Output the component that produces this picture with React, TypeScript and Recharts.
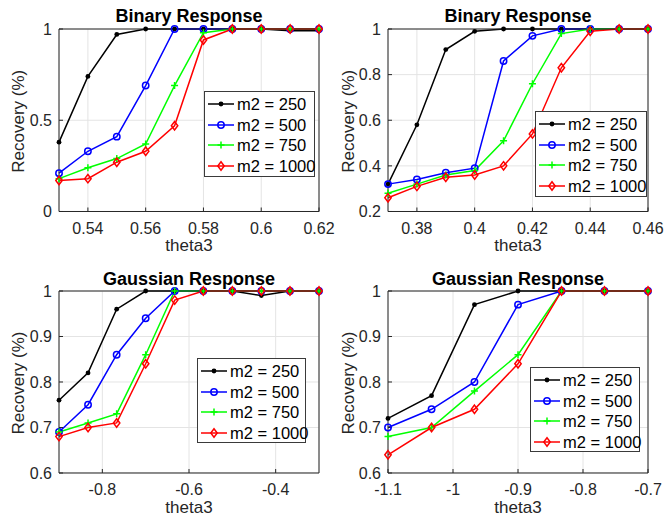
import React from "react"
import { LineChart, Line, XAxis, YAxis, CartesianGrid } from "recharts"

const FONT = '"Liberation Sans", Arial, Helvetica, sans-serif'
const INK = "#262626"

// theta3 values per panel
const thetaBinaryA = [0.53, 0.54, 0.55, 0.56, 0.57, 0.58, 0.59, 0.6, 0.61, 0.62]
const thetaBinaryB = [0.37, 0.38, 0.39, 0.4, 0.41, 0.42, 0.43, 0.44, 0.45, 0.46]
const thetaGaussA = [-0.9, -0.833, -0.767, -0.7, -0.633, -0.567, -0.5, -0.433, -0.367, -0.3]
const thetaGaussB = [-1.1, -1.033, -0.967, -0.9, -0.833, -0.767, -0.7]

// recovery, binary response (left)
const binA250 = [0.38, 0.74, 0.97, 1, 1, 1, 1, 1, 0.99, 0.99]
const binA500 = [0.21, 0.33, 0.41, 0.69, 1, 1, 1, 1, 1, 1]
const binA750 = [0.18, 0.24, 0.29, 0.37, 0.69, 0.98, 1, 1, 1, 1]
const binA1000 = [0.17, 0.18, 0.27, 0.33, 0.47, 0.94, 1, 1, 1, 1]

// recovery, binary response (right)
const binB250 = [0.32, 0.58, 0.91, 0.99, 1, 1, 1, 1, 1, 1]
const binB500 = [0.32, 0.34, 0.37, 0.39, 0.86, 0.97, 1, 1, 1, 1]
const binB750 = [0.28, 0.32, 0.36, 0.38, 0.51, 0.76, 0.98, 1, 1, 1]
const binB1000 = [0.26, 0.31, 0.35, 0.36, 0.4, 0.54, 0.83, 0.99, 1, 1]

// recovery, gaussian response (left)
const gauA250 = [0.76, 0.82, 0.96, 1, 1, 1, 1, 0.99, 1, 1]
const gauA500 = [0.69, 0.75, 0.86, 0.94, 1, 1, 1, 1, 1, 1]
const gauA750 = [0.69, 0.71, 0.73, 0.86, 1, 1, 1, 1, 1, 1]
const gauA1000 = [0.68, 0.7, 0.71, 0.84, 0.98, 1, 1, 1, 1, 1]

// recovery, gaussian response (right)
const gauB250 = [0.72, 0.77, 0.97, 1, 1, 1, 1]
const gauB500 = [0.7, 0.74, 0.8, 0.97, 1, 1, 1]
const gauB750 = [0.68, 0.7, 0.78, 0.86, 1, 1, 1]
const gauB1000 = [0.64, 0.7, 0.74, 0.84, 1, 1, 1]

const seriesNames = ["m2 = 250", "m2 = 500", "m2 = 750", "m2 = 1000"]

// tick labels
const xTicksBinA = [0.54, 0.56, 0.58, 0.6, 0.62]
const xTicksBinB = [0.38, 0.4, 0.42, 0.44, 0.46]
const xTicksGauA = [-0.8, -0.6, -0.4]
const xTicksGauB = [-1.1, -1, -0.9, -0.8, -0.7]
const yTicksBinA = [0, 0.5, 1]
const yTicksBinB = [0.2, 0.4, 0.6, 0.8, 1]
const yTicksGau = [0.6, 0.7, 0.8, 0.9, 1]

const styles = [
  { color: "#000000", marker: "dot" },
  { color: "#0000ff", marker: "circle" },
  { color: "#00ff00", marker: "plus" },
  { color: "#ff0000", marker: "diamond" },
]

const fmt = (v: number) => String(Number(v.toFixed(2)))

// axes need a non-zero thickness or recharts skips drawing them
const THIN = 0.01

function Marker({ kind, cx, cy, color }: { kind: string; cx: number; cy: number; color: string }) {
  if (cx == null || cy == null) return null
  if (kind === "dot") return <circle cx={cx} cy={cy} r={2.4} fill={color} />
  if (kind === "circle") return <circle cx={cx} cy={cy} r={3.2} fill="none" stroke={color} strokeWidth={1.5} />
  if (kind === "plus")
    return (
      <path d={`M${cx - 3.5},${cy}H${cx + 3.5}M${cx},${cy - 3.5}V${cy + 3.5}`} stroke={color} strokeWidth={1.5} />
    )
  return (
    <path
      d={`M${cx},${cy - 4.2}L${cx + 3.2},${cy}L${cx},${cy + 4.2}L${cx - 3.2},${cy}Z`}
      fill="none"
      stroke={color}
      strokeWidth={1.5}
    />
  )
}

type PanelProps = {
  title: string
  x: number[]
  series: number[][]
  xDomain: [number, number]
  yDomain: [number, number]
  xTicks: number[]
  yTicks: number[]
  width: number
  margin: { top: number; right: number; bottom: number; left: number }
  yLabelX: number
  titleY: number
  xLabelY: number
  legend: { left: number; top: number; width: number; height: number }
  pos: { left: number; top: number }
}

function Panel(p: PanelProps) {
  const H = 260
  const data = p.x.map((v, i) => {
    const row: Record<string, number> = { x: v }
    p.series.forEach((s, k) => (row["s" + k] = s[i]))
    return row
  })
  const plotCx = (p.margin.left + p.width - p.margin.right) / 2
  const plotCy = (p.margin.top + H - p.margin.bottom) / 2
  const tickStyle = { fill: INK, fontSize: 16, fontFamily: FONT }

  return (
    <div style={{ position: "absolute", left: p.pos.left, top: p.pos.top, width: p.width, height: H }}>
      <LineChart width={p.width} height={H} data={data} margin={p.margin}>
        <CartesianGrid xAxisId="b" yAxisId="l" stroke="#e4e4e4" />
        <XAxis
          xAxisId="b"
          type="number"
          dataKey="x"
          domain={p.xDomain}
          ticks={p.xTicks}
          interval={0}
          height={THIN}
          tickSize={-4}
          tickMargin={15}
          stroke={INK}
          tick={tickStyle}
          tickFormatter={fmt}
        />
        <XAxis
          xAxisId="t"
          orientation="top"
          type="number"
          dataKey="x"
          domain={p.xDomain}
          ticks={p.xTicks}
          interval={0}
          height={THIN}
          mirror
          tick={false}
          tickSize={4}
          stroke={INK}
        />
        <YAxis
          yAxisId="l"
          type="number"
          domain={p.yDomain}
          ticks={p.yTicks}
          interval={0}
          width={THIN}
          tickSize={-4}
          tickMargin={11}
          stroke={INK}
          tick={tickStyle}
          tickFormatter={fmt}
        />
        <YAxis
          yAxisId="r"
          orientation="right"
          type="number"
          domain={p.yDomain}
          ticks={p.yTicks}
          interval={0}
          width={THIN}
          mirror
          tick={false}
          tickSize={4}
          stroke={INK}
        />
        {p.series.map((_, k) => (
          <Line
            key={k}
            xAxisId="b"
            yAxisId="l"
            type="linear"
            dataKey={"s" + k}
            stroke={styles[k].color}
            strokeWidth={1.5}
            isAnimationActive={false}
            dot={(d: any) => (
              <Marker key={`${k}-${d.index}`} kind={styles[k].marker} cx={d.cx} cy={d.cy} color={styles[k].color} />
            )}
            activeDot={false}
          />
        ))}
      </LineChart>
      <svg
        width={p.width}
        height={H}
        style={{ position: "absolute", left: 0, top: 0, pointerEvents: "none", fontFamily: FONT }}
      >
        <text x={plotCx} y={p.titleY} textAnchor="middle" fontWeight="bold" fontSize={18} fill="#000">
          {p.title}
        </text>
        <text x={plotCx} y={p.xLabelY} textAnchor="middle" fontSize={17} fill={INK}>
          theta3
        </text>
        <text
          transform={`translate(${p.yLabelX},${plotCy + 1}) rotate(-90)`}
          textAnchor="middle"
          fontSize={17}
          fill={INK}
        >
          Recovery (%)
        </text>
      </svg>
      <div
        style={{
          position: "absolute",
          left: p.legend.left,
          top: p.legend.top,
          width: p.legend.width,
          height: p.legend.height,
          boxSizing: "border-box",
          border: "1px solid #3a3a3a",
          background: "#fff",
          padding: "2px 0",
          fontFamily: FONT,
          fontSize: 16.5,
          color: "#000",
        }}
      >
        {seriesNames.map((name, k) => (
          <div key={name} style={{ display: "flex", alignItems: "center", height: 20.6 }}>
            <svg width={30} height={14} style={{ marginLeft: 2, flex: "none" }}>
              <line x1={1} y1={7} x2={27} y2={7} stroke={styles[k].color} strokeWidth={1.5} />
              <Marker kind={styles[k].marker} cx={14} cy={7} color={styles[k].color} />
            </svg>
            <span style={{ whiteSpace: "nowrap", lineHeight: 1 }}>{name}</span>
          </div>
        ))}
      </div>
    </div>
  )
}

export default function App() {
  return (
    <div style={{ position: "absolute", left: 0, top: 0, width: 671, height: 520, background: "#fff" }}>
      <Panel
        title="Binary Response"
        x={thetaBinaryA}
        series={[binA250, binA500, binA750, binA1000]}
        xDomain={[0.53, 0.62]}
        yDomain={[0, 1]}
        xTicks={xTicksBinA}
        yTicks={yTicksBinA}
        width={335}
        margin={{ top: 29, right: 16, bottom: 48.5, left: 59 }}
        yLabelX={24}
        titleY={21.5}
        xLabelY={250.5}
        legend={{ left: 204, top: 91, width: 111, height: 86 }}
        pos={{ left: 0, top: 0 }}
      />
      <Panel
        title="Binary Response"
        x={thetaBinaryB}
        series={[binB250, binB500, binB750, binB1000]}
        xDomain={[0.37, 0.46]}
        yDomain={[0.2, 1]}
        xTicks={xTicksBinB}
        yTicks={yTicksBinB}
        width={336}
        margin={{ top: 29, right: 23, bottom: 48.5, left: 53 }}
        yLabelX={19}
        titleY={21.5}
        xLabelY={250.5}
        legend={{ left: 200, top: 111, width: 112, height: 86 }}
        pos={{ left: 335, top: 0 }}
      />
      <Panel
        title="Gaussian Response"
        x={thetaGaussA}
        series={[gauA250, gauA500, gauA750, gauA1000]}
        xDomain={[-0.9, -0.3]}
        yDomain={[0.6, 1]}
        xTicks={xTicksGauA}
        yTicks={yTicksGau}
        width={335}
        margin={{ top: 31, right: 16, bottom: 47, left: 59 }}
        yLabelX={24}
        titleY={24.5}
        xLabelY={252.5}
        legend={{ left: 197, top: 98, width: 109, height: 85 }}
        pos={{ left: 0, top: 260 }}
      />
      <Panel
        title="Gaussian Response"
        x={thetaGaussB}
        series={[gauB250, gauB500, gauB750, gauB1000]}
        xDomain={[-1.1, -0.7]}
        yDomain={[0.6, 1]}
        xTicks={xTicksGauB}
        yTicks={yTicksGau}
        width={336}
        margin={{ top: 31, right: 23, bottom: 47, left: 53 }}
        yLabelX={19}
        titleY={24.5}
        xLabelY={252.5}
        legend={{ left: 195, top: 107, width: 110, height: 85 }}
        pos={{ left: 335, top: 260 }}
      />
    </div>
  )
}
